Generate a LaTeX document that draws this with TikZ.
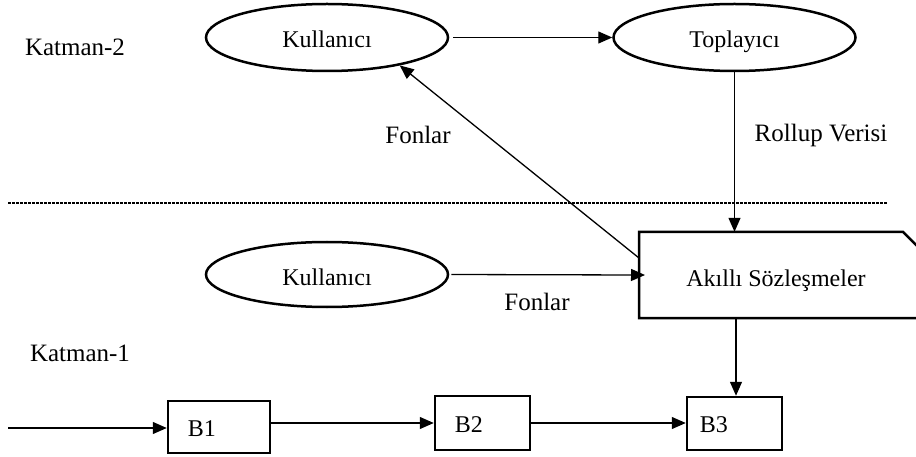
\documentclass[tikz,border=0pt]{standalone}
\usepackage{fontspec}
\setmainfont{Liberation Serif}
\usetikzlibrary{arrows.meta,shapes.geometric,calc}
\tikzset{
  ell/.style={draw,ellipse,line width=2.5pt,minimum width=242pt,minimum height=67pt,inner sep=0pt,text height=21pt,text depth=0pt,font=\fontsize{24}{28}\selectfont},
  blk/.style={draw,rectangle,line width=2.5pt,inner sep=0pt},
  lbl/.style={font=\fontsize{25}{30}\selectfont,inner sep=0pt},
  txt/.style={font=\fontsize{24}{28}\selectfont,inner sep=0pt},
  conn/.style={line width=1.3pt,-{Triangle[length=14pt,width=12pt]}},
  sep/.style={line width=1.1pt,dash pattern=on 3pt off 1pt}
}
\begin{document}
\begin{tikzpicture}[x=1pt,y=-1pt]
\useasboundingbox (0,0) rectangle (916,457);
\clip (0,0) rectangle (916,457);
% layer labels
\node[lbl] (k2) at (75,47) {Katman-2};
\node[lbl] (k1) at (80,353) {Katman-1};
% ellipses
\node[ell] (ku2) at (327,37.5) {Kullanıcı};
\node[ell] (top) at (734.5,37.5) {Toplayıcı};
\node[ell,minimum height=65pt] (ku1) at (327,274.5) {Kullanıcı};
% smart contracts shape
\node[inner sep=0pt,minimum width=290pt,minimum height=86pt,anchor=west] (ak) at (639,275) {};
\draw[line width=2.5pt] ([xshift=290pt]ak.south west) -- (ak.south west) -- (ak.north west) -- ++(264,0) -- ++(30,30);
\node[txt] (akt) at (776,281) {Akıllı Sözleşmeler};
% labels
\node[lbl] (f2) at (418,135) {Fonlar};
\node[lbl] (rv) at (821,135) {Rollup Verisi};
\node[lbl] (f1) at (537,302) {Fonlar};
% separator
\coordinate (dl) at (8,203);
\coordinate (dr) at (888,203);
\draw[sep] (dl) -- (dr);
% blocks
\node[blk,minimum width=102pt,minimum height=52pt] (b1) at (219,427) {};
\node[blk,minimum width=95pt,minimum height=54pt] (b2) at (482.5,423) {};
\node[blk,minimum width=95pt,minimum height=53pt] (b3) at (734.5,423.5) {};
\node[txt,anchor=west] (b1t) at ([xshift=21pt,yshift=-1.5pt]b1.west) {B1};
\node[txt,anchor=west] (b2t) at ([xshift=21pt,yshift=-1.5pt]b2.west) {B2};
\node[txt,anchor=west] (b3t) at ([xshift=14pt,yshift=-1.5pt]b3.west) {B3};
\coordinate (in) at (8,428);
\coordinate (akd) at ($(ak.west)+(0,-17)$);
\coordinate (akb) at ($(ak.south west)+(97,0)$);
% connectors
\draw[conn,shorten <=4pt] (ku2.east) -- (top.west);
\draw[conn] (top.south) -- (top.south |- ak.north);
\draw[conn] (akd) -- (ku2.-21);
\draw[conn,shorten <=2pt,shorten >=-6pt] (ku1.east) -- (ak.west);
\draw[conn] (akb) -- (akb |- b3.north);
\draw[conn] (in) -- (b1.west |- in);
\draw[conn] (b1.east |- b2) -- (b2.west);
\draw[conn] (b2.east) -- (b3.west |- b2.east);
\end{tikzpicture}
\end{document}
